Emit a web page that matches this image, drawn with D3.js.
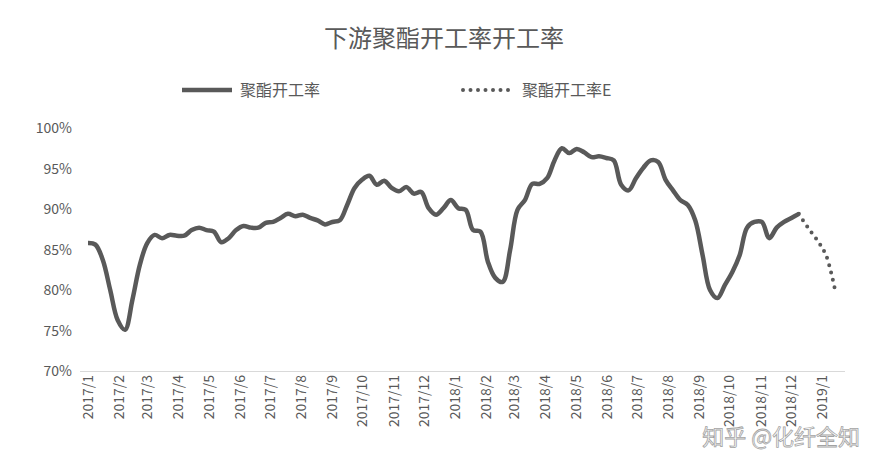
<!DOCTYPE html>
<html><head><meta charset="utf-8">
<script src="https://cdn.jsdelivr.net/npm/d3@7"></script>
<style>body{margin:0;background:#fff;font-family:"Noto Sans CJK SC","Noto Sans",sans-serif;}</style>
</head><body><div id="chart"></div>
<script>
// Weekly operating rate (%), 2017-01-01 to 2018-12-09
const startDate = new Date(2017, 0, 1);
const endDate = new Date(2018, 11, 9);
const rateValues = [85.8,85.6,83.7,80.0,76.3,75.1,78.8,83.1,85.8,86.8,86.4,86.8,86.7,86.7,87.4,87.7,87.4,87.2,85.9,86.4,
  87.4,87.9,87.7,87.7,88.3,88.4,88.9,89.4,89.1,89.3,88.9,88.6,88.1,88.4,88.6,90.5,92.6,93.6,94.1,93.0,
  93.5,92.6,92.2,92.7,91.9,92.1,90.1,89.3,90.1,91.1,90.1,89.9,87.4,87.2,83.5,81.5,81.0,84.9,89.9,91.1,
  93.1,93.1,93.8,96.0,97.5,96.9,97.4,97.0,96.4,96.5,96.3,96.0,93.0,92.3,93.8,95.1,96.0,95.8,93.6,92.3,
  91.1,90.5,88.6,84.3,80.0,79.0,80.6,82.2,84.3,87.7,88.4,88.4,86.4,87.7,88.4,88.9,89.4];
// Estimate series
const estDates = ['2018-12-09','2018-12-18','2018-12-27','2019-01-05','2019-01-14'];
const estValues = [89.4,87.7,86.2,84.3,80.0];
const yTicks = [70,75,80,85,90,95,100];
const monthLabels = d3.timeMonths(new Date(2017,0,1), new Date(2019,0,2));

const W = 888, H = 475;
const grey = '#595959';
const svg = d3.select('#chart').append('svg').attr('width', W).attr('height', H);

const x = d3.scaleTime().domain([new Date(2017,0,1), new Date(2019,0,1)]).range([88, 822]);
const y = d3.scaleLinear().domain([70,100]).range([371,128]);

const step = (endDate - startDate) / (rateValues.length - 1);
const solid = rateValues.map((v,i) => ({date: new Date(startDate.getTime() + i*step), v}));
const est = estDates.map((d,i) => ({date: d3.timeParse('%Y-%m-%d')(d), v: estValues[i]}));

// title
svg.append('text').attr('x', 444).attr('y', 47).attr('text-anchor','middle')
  .attr('font-size', 24).attr('fill', grey).text('下游聚酯开工率开工率');

// legend
svg.append('line').attr('x1',182).attr('x2',232).attr('y1',90).attr('y2',90)
  .attr('stroke',grey).attr('stroke-width',4.5);
svg.append('text').attr('x',240).attr('y',96).attr('font-size',16).attr('fill',grey).text('聚酯开工率');
svg.append('line').attr('x1',463).attr('x2',515).attr('y1',90).attr('y2',90)
  .attr('stroke',grey).attr('stroke-width',4).attr('stroke-dasharray','0 7.5').attr('stroke-linecap','round');
svg.append('text').attr('x',522).attr('y',96).attr('font-size',16).attr('fill',grey).text('聚酯开工率E');

// y axis labels
svg.selectAll('.yl').data(yTicks).enter().append('text')
  .attr('x',72).attr('y', d => y(d)+5).attr('text-anchor','end')
  .attr('font-size',14).attr('fill',grey).text(d => d + '%');

// x axis
svg.append('line').attr('x1',80).attr('x2',845).attr('y1',371.5).attr('y2',371.5).attr('stroke','#d9d9d9');
svg.selectAll('.xl').data(monthLabels).enter().append('text')
  .attr('transform', d => `translate(${x(d)+5},375) rotate(-90)`)
  .attr('text-anchor','end').attr('font-size',14).attr('fill',grey)
  .text(d => d3.timeFormat('%Y/')(d) + (d.getMonth()+1));

const line = d3.line().curve(d3.curveCatmullRom).x(d => x(d.date)).y(d => y(d.v));
svg.append('path').datum(solid).attr('d', line).attr('fill','none')
  .attr('stroke',grey).attr('stroke-width',4.5).attr('stroke-linejoin','round');
svg.append('path').datum(est).attr('d', line).attr('fill','none')
  .attr('stroke',grey).attr('stroke-width',4).attr('stroke-dasharray','0 7.5').attr('stroke-linecap','round');

// watermark
svg.append('text').attr('x',860).attr('y',445).attr('text-anchor','end').attr('font-size',22)
  .attr('fill','#fff').attr('stroke','#999').attr('stroke-width',0.8).attr('opacity',0.9).text('知乎 @化纤全知');
</script></body></html>
